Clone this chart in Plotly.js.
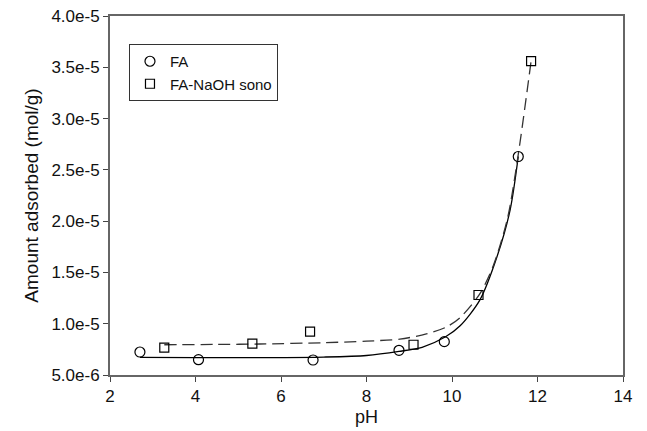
<!DOCTYPE html>
<html>
<head>
<meta charset="utf-8">
<script src="https://cdn.plot.ly/plotly-3.0.1.min.js"></script>
<style>html,body{margin:0;padding:0;background:#fff;}#chart{width:647px;height:431px;}</style>
</head>
<body>
<div id="chart"></div>
<script>
// Measured points
const faPH = [2.70, 4.07, 6.75, 8.76, 9.82, 11.55];
const faAmount = [7.24e-6, 6.49e-6, 6.46e-6, 7.41e-6, 8.25e-6, 2.63e-5];
const sonoPH = [3.27, 5.33, 6.68, 9.10, 10.62, 11.85];
const sonoAmount = [7.66e-6, 8.05e-6, 9.22e-6, 7.95e-6, 1.28e-5, 3.56e-5];

// Fitted curves
const faFitPH = [2.70, 4.0, 5.5, 7.0, 8.0, 8.76, 9.3, 9.84, 10.19, 10.65, 11.05, 11.36, 11.55];
const faFitAmount = [6.72e-6, 6.70e-6, 6.70e-6, 6.75e-6, 6.9e-6, 7.3e-6, 7.7e-6, 8.7e-6, 9.8e-6, 12.3e-6, 16.5e-6, 21.1e-6, 26.3e-6];
const sonoFitPH = [3.27, 4.5, 5.5, 7.0, 8.0, 8.78, 9.4, 9.88, 10.19, 10.65, 10.97, 11.3, 11.55, 11.85];
const sonoFitAmount = [7.95e-6, 7.98e-6, 8.02e-6, 8.15e-6, 8.3e-6, 8.5e-6, 9.0e-6, 9.7e-6, 10.6e-6, 12.9e-6, 15.7e-6, 20.3e-6, 26.5e-6, 35.6e-6];

const xTicks = [2, 4, 6, 8, 10, 12, 14];
const yTicks = [5e-6, 1e-5, 1.5e-5, 2e-5, 2.5e-5, 3e-5, 3.5e-5, 4e-5];
const yTickText = yTicks.map(v => v.toExponential(1));
const seriesNames = ['FA', 'FA-NaOH sono'];

const traces = [
  {x: faFitPH, y: faFitAmount, mode: 'lines', line: {color: '#000', width: 1.3, shape: 'spline', smoothing: 0.8}, showlegend: false, hoverinfo: 'skip'},
  {x: sonoFitPH, y: sonoFitAmount, mode: 'lines', line: {color: '#333', width: 1.3, dash: '12px,6px', shape: 'spline', smoothing: 0.8}, showlegend: false, hoverinfo: 'skip'},
  {x: faPH, y: faAmount, mode: 'markers', name: seriesNames[0],
   marker: {symbol: 'circle-open', size: 10, color: '#000', line: {width: 1.2, color: '#000'}}},
  {x: sonoPH, y: sonoAmount, mode: 'markers', name: seriesNames[1],
   marker: {symbol: 'square-open', size: 9, color: '#000', line: {width: 1.2, color: '#000'}}}
];

const layout = {
  width: 647, height: 431,
  margin: {l: 110, r: 24, t: 16, b: 56, pad: 0},
  paper_bgcolor: '#fff', plot_bgcolor: '#fff',
  font: {family: 'Liberation Sans, Arial, sans-serif', color: '#111', size: 17},
  xaxis: {
    range: [2, 14], tickvals: xTicks, ticktext: xTicks.map(String),
    showgrid: false, zeroline: false, showline: true, linecolor: '#666', linewidth: 2,
    mirror: true, ticks: 'outside', ticklen: 5, tickcolor: '#444', tickwidth: 1,
    tickfont: {size: 17}, title: {text: 'pH', font: {size: 18}, standoff: 5}
  },
  yaxis: {
    range: [5e-6, 4e-5], tickvals: yTicks, ticktext: yTickText,
    showgrid: false, zeroline: false, showline: true, linecolor: '#666', linewidth: 2,
    mirror: true, ticks: 'outside', ticklen: 5, tickcolor: '#444', tickwidth: 1,
    tickfont: {size: 17}, title: {text: 'Amount adsorbed (mol/g)', font: {size: 19}, standoff: 8}
  },
  legend: {
    x: 0.037, y: 0.922, xanchor: 'left', yanchor: 'top',
    bgcolor: '#fff', bordercolor: '#333', borderwidth: 1,
    font: {size: 15, color: '#111'}, tracegroupgap: 0, itemwidth: 30
  },
  showlegend: true
};

Plotly.newPlot('chart', traces, layout, {displayModeBar: false, staticPlot: true});
</script>
</body>
</html>
